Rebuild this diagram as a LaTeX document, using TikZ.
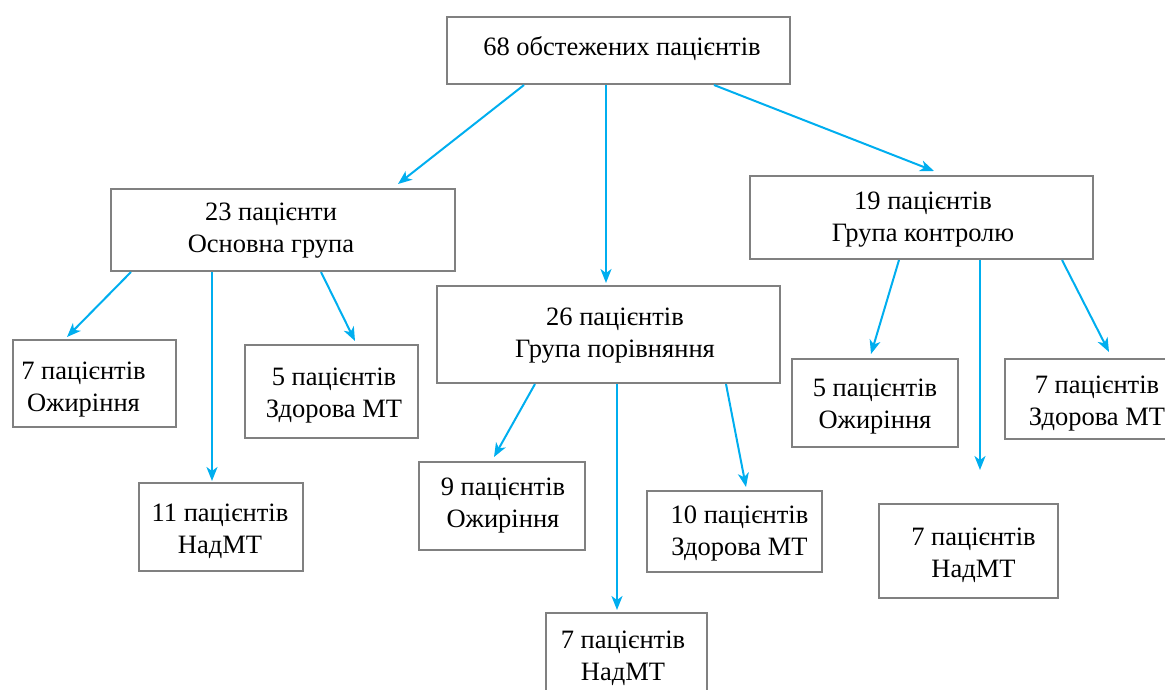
\documentclass[tikz,border=0pt]{standalone}
\usepackage{fontspec}
\setmainfont{Liberation Serif}
\usepackage{xcolor}
\usetikzlibrary{arrows.meta, positioning, calc}

\definecolor{boxgray}{RGB}{128,128,128}
\definecolor{arrcyan}{RGB}{0,174,239}

\begin{document}
\begin{tikzpicture}[x=1pt, y=-1pt,
    box/.style={draw=boxgray, line width=2pt, fill=white},
    txt/.style={align=center, inner sep=0pt, font=\fontsize{26.5}{32}\selectfont},
    arr/.style={draw=arrcyan, line width=2pt, -{Stealth[length=14pt, width=11pt, inset=4pt]}}]
    \clip (0,0) rectangle (1165,689);

    % boxes
    \node[box, minimum width=343, minimum height=67] (top) at (618.5,50.5) {};
    \node[box, minimum width=344, minimum height=82] (osn) at (283,230) {};
    \node[box, minimum width=343, minimum height=97] (por) at (608.5,334.5) {};
    \node[box, minimum width=343, minimum height=83] (kon) at (921.5,217.5) {};
    \node[box, minimum width=163, minimum height=87] (osnA) at (94.5,383.5) {};
    \node[box, minimum width=164, minimum height=88] (osnB) at (221,527) {};
    \node[box, minimum width=173, minimum height=93] (osnC) at (331.5,391.5) {};
    \node[box, minimum width=166, minimum height=88] (porA) at (502,506) {};
    \node[box, minimum width=175, minimum height=81] (porC) at (734.5,531.5) {};
    \node[box, minimum width=161, minimum height=87] (porB) at (626.5,656.5) {};
    \node[box, minimum width=166, minimum height=88] (konA) at (875,403) {};
    \node[box, minimum width=165, minimum height=80] (konC) at (1087.5,399) {};
    \node[box, minimum width=179, minimum height=94] (konB) at (968.5,551) {};

    % texts
    \node[txt] (topT) at (622,49) {68 обстежених пацієнтів};
    \node[txt] (osnT) at (271,231) {23 пацієнти\\Основна група};
    \node[txt] (porT) at (615,336) {26 пацієнтів\\Група порівняння};
    \node[txt] (konT) at (923,219.5) {19 пацієнтів\\Група контролю};
    \node[txt] (osnAT) at (83.5,389.5) {7 пацієнтів\\Ожиріння};
    \node[txt] (osnBT) at (220,531.5) {11 пацієнтів\\НадМТ};
    \node[txt] (osnCT) at (334,396) {5 пацієнтів\\Здорова МТ};
    \node[txt] (porAT) at (503,506) {9 пацієнтів\\Ожиріння};
    \node[txt] (porCT) at (739.5,533.5) {10 пацієнтів\\Здорова МТ};
    \node[txt] (porBT) at (623,658) {7 пацієнтів\\НадМТ};
    \node[txt] (konAT) at (875,407) {5 пацієнтів\\Ожиріння};
    \node[txt] (konCT) at (1097,404) {7 пацієнтів\\Здорова МТ};
    \node[txt] (konBT) at (973.5,555.5) {7 пацієнтів\\НадМТ};

    \coordinate (konEnd) at (980,470);

    % arrows
    \draw[arr] ([xshift=-94.5pt]top.south) -- ([xshift=115pt, yshift=4pt]osn.north);
    \draw[arr] ([xshift=-12.5pt]top.south) -- ([xshift=-2.5pt, yshift=2pt]por.north);
    \draw[arr] ([xshift=95.5pt]top.south) -- ([xshift=12.5pt, yshift=4pt]kon.north);

    \draw[arr] ([xshift=-152pt]osn.south) -- ([xshift=-27.5pt, yshift=2pt]osnA.north);
    \draw[arr] ([xshift=-71pt]osn.south) -- ([xshift=-9pt, yshift=1pt]osnB.north);
    \draw[arr] ([xshift=38pt]osn.south) -- ([xshift=23.5pt, yshift=3pt]osnC.north);

    \draw[arr] ([xshift=-73.5pt]por.south) -- ([xshift=-8pt, yshift=4pt]porA.north);
    \draw[arr] ([xshift=8.5pt]por.south) -- ([xshift=-9.5pt, yshift=2pt]porB.north);
    \draw[arr] ([xshift=117.5pt]por.south) -- ([xshift=11.5pt, yshift=3pt]porC.north);

    \draw[arr] ([xshift=-22.5pt]kon.south) -- ([xshift=-4pt, yshift=4pt]konA.north);
    \draw[arr] ([xshift=58.5pt]kon.south) -- (konEnd);
    \draw[arr] ([xshift=140.5pt]kon.south) -- ([xshift=21.5pt, yshift=6pt]konC.north);
\end{tikzpicture}
\end{document}
